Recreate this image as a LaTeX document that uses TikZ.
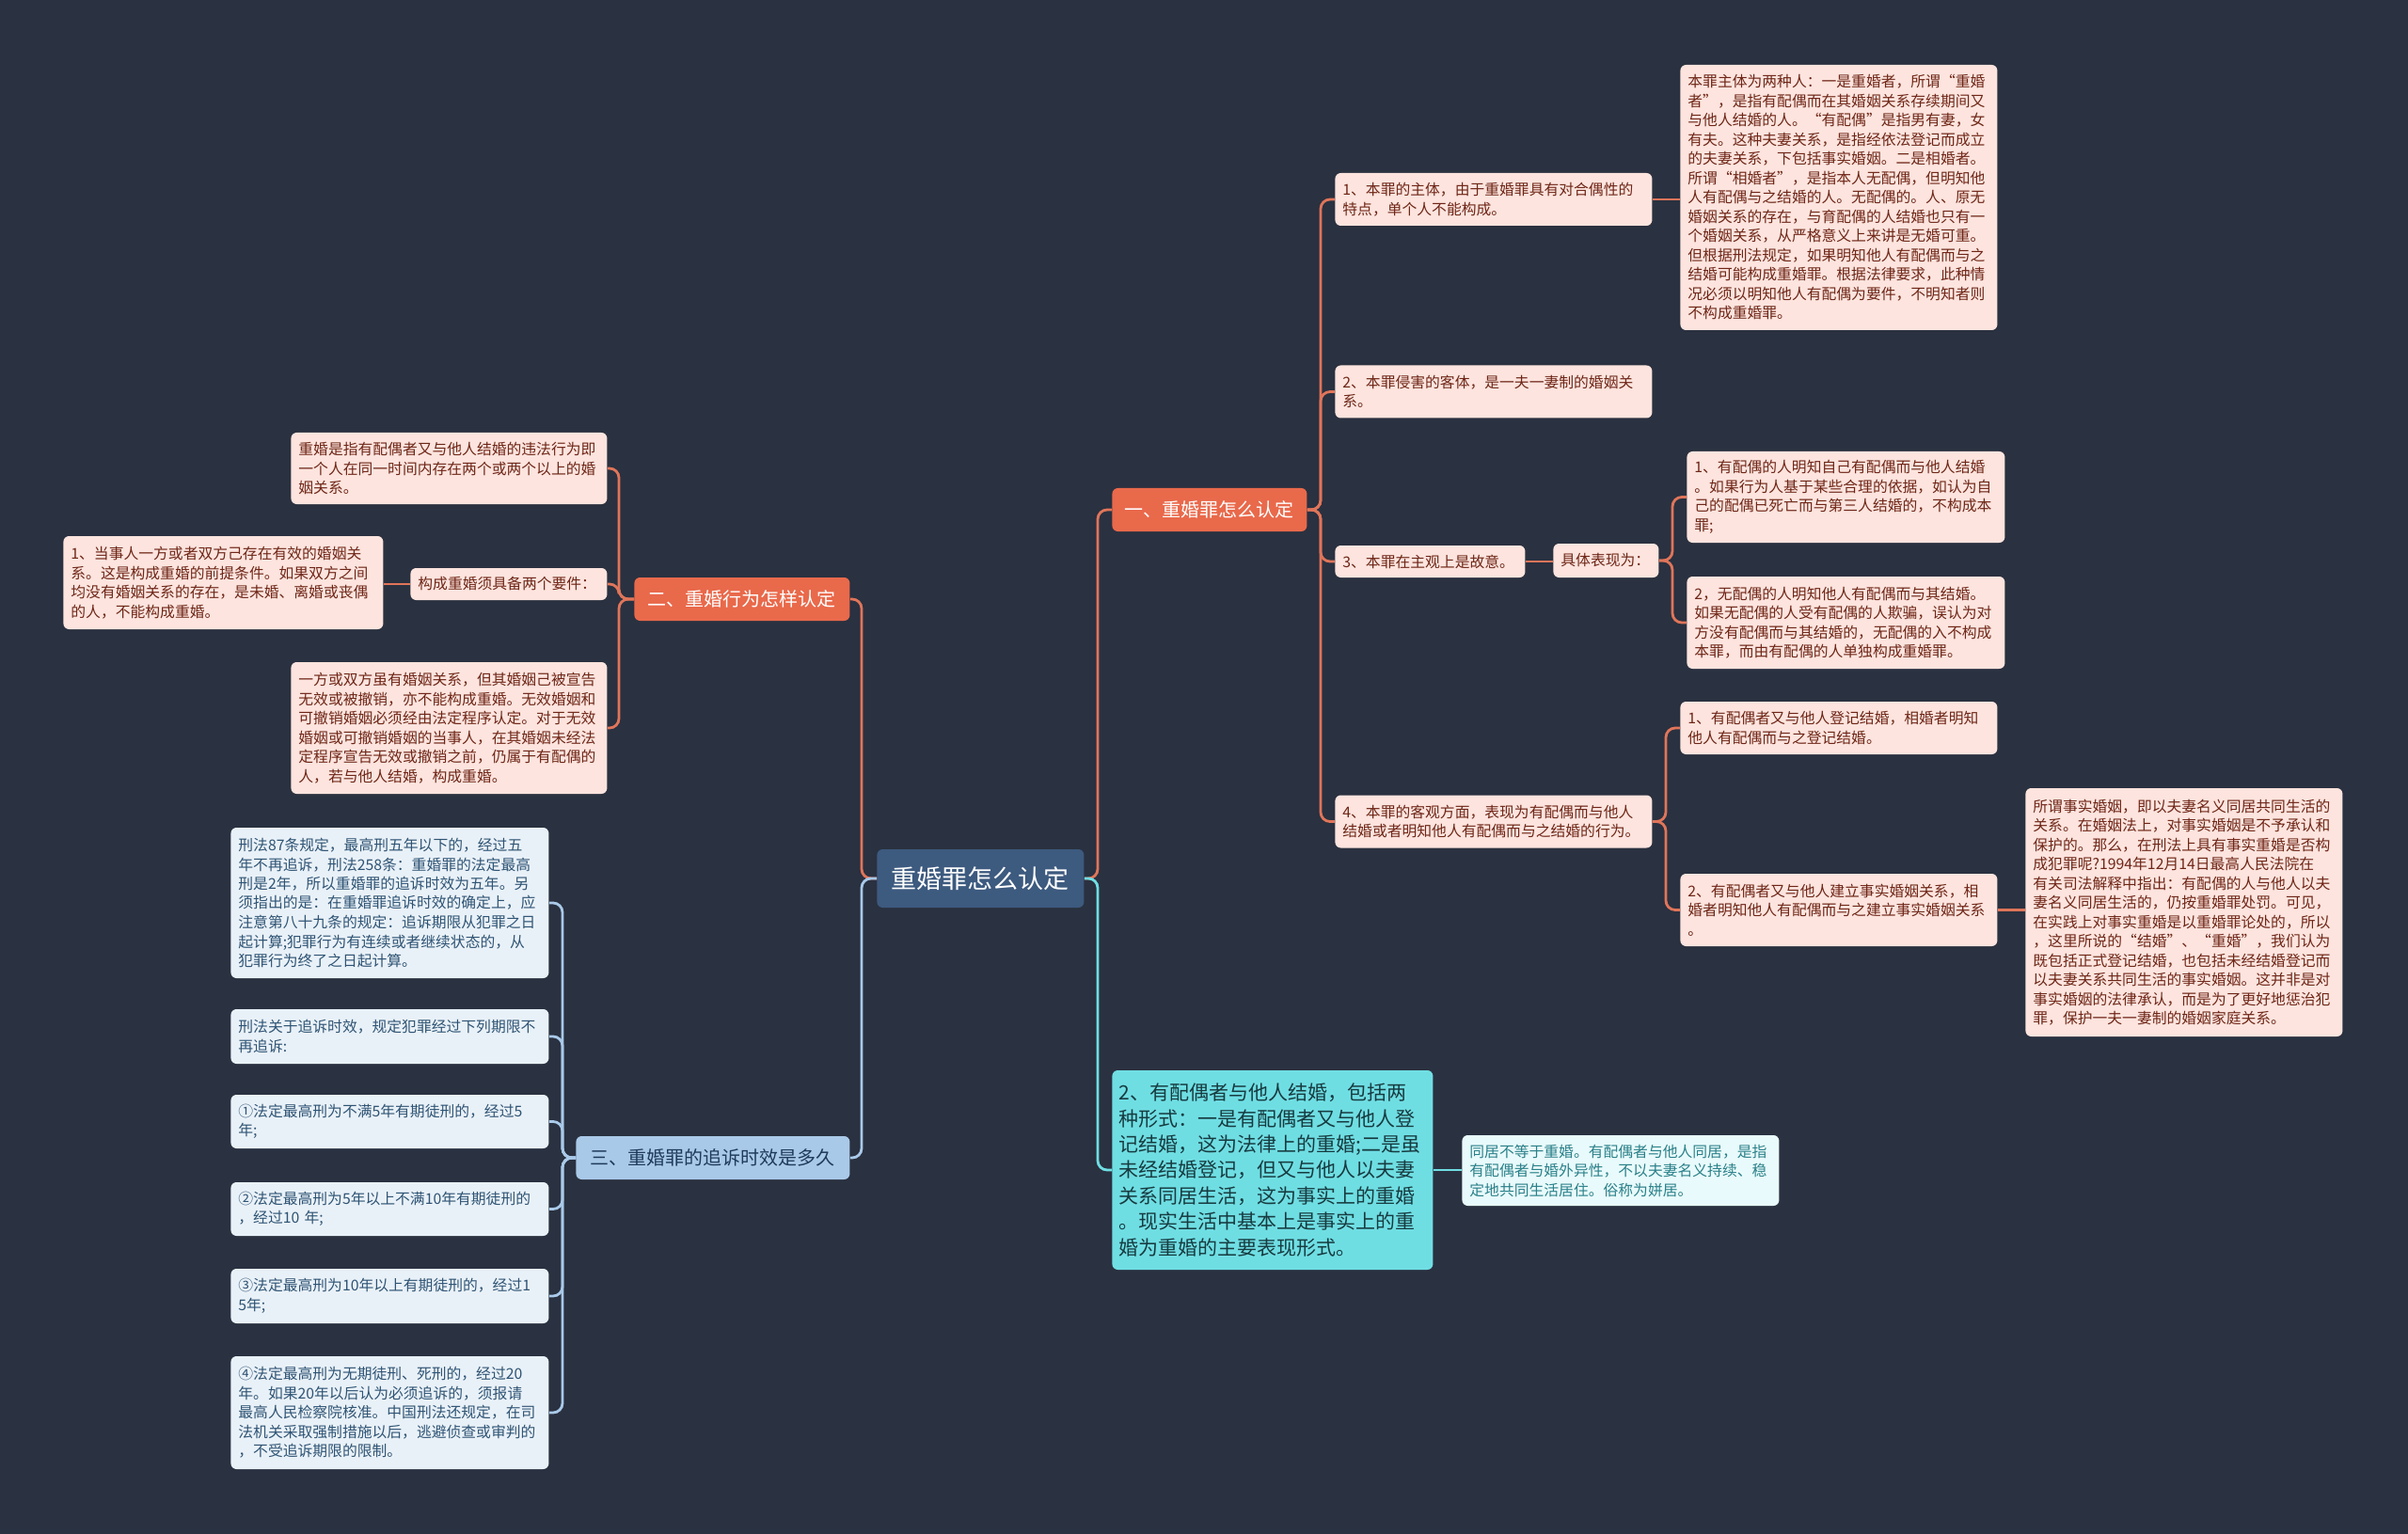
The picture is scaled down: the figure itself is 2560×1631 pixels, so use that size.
\documentclass[tikz,border=0pt]{standalone}
\usepackage{fontspec}
\setmainfont{Noto Sans CJK SC}
\definecolor{bgc}{HTML}{2A3140}
\definecolor{rootfill}{HTML}{3D5A7F}
\definecolor{orfill}{HTML}{E9694B}
\definecolor{orline}{HTML}{E0755A}
\definecolor{pkfill}{HTML}{FDE4DE}
\definecolor{pktext}{HTML}{6E2617}
\definecolor{blmain}{HTML}{A9C9E9}
\definecolor{blmaintext}{HTML}{1F3A5A}
\definecolor{blfill}{HTML}{E9F1F8}
\definecolor{bltext}{HTML}{2F5474}
\definecolor{cymain}{HTML}{6FDEE3}
\definecolor{cymaintext}{HTML}{173B40}
\definecolor{cyfill}{HTML}{E8FAFB}
\definecolor{cytext}{HTML}{2A8089}
\tikzset{
  box/.style={anchor=west, rounded corners=3pt, align=left, inner xsep=4pt, inner ysep=1pt},
  small/.style={font=\fontsize{7.9pt}{10.25pt}\selectfont},
  pk/.style={box, small, fill=pkfill, text=pktext},
  bl/.style={box, small, fill=blfill, text=bltext},
  cyl/.style={box, small, fill=cyfill, text=cytext},
  mainor/.style={box, align=center, fill=orfill, text=white, font=\fontsize{10pt}{12pt}\selectfont},
  mainbl/.style={box, align=center, fill=blmain, text=blmaintext, font=\fontsize{10pt}{12pt}\selectfont},
  maincy/.style={box, fill=cymain, text=cymaintext, inner xsep=3.75pt, font=\fontsize{10.5pt}{13.7pt}\selectfont},
  rootbox/.style={box, align=center, fill=rootfill, text=white, font=\fontsize{13.5pt}{16pt}\selectfont},
  oline/.style={draw=orline, line width=1.4pt, rounded corners=5pt},
  bline/.style={draw=blmain, line width=1.4pt, rounded corners=5pt},
  cline/.style={draw=cymain, line width=1.4pt, rounded corners=5pt}
}
\begin{document}
\begin{tikzpicture}[x=0.5pt, y=-0.5pt]
\fill[bgc] (0,0) rectangle (2560,1631);
\useasboundingbox (0,0) rectangle (2560,1631);

% root
\node[rootbox, text width=102pt, minimum height=31pt] (root) at (932,934) {重婚罪怎么认定};

% main branches
\node[mainor, text width=95.5pt, minimum height=23pt] (M1) at (1182,542) {一、重婚罪怎么认定};
\node[mainor, text width=106.5pt, minimum height=23pt] (M2) at (674,637) {二、重婚行为怎样认定};
\node[mainbl, text width=137.5pt, minimum height=23pt] (M3) at (612,1231) {三、重婚罪的追诉时效是多久};
\node[maincy, text width=163pt, minimum height=106pt] (C) at (1182,1244) {2、有配偶者与他人结婚，包括两\\种形式：一是有配偶者又与他人登\\记结婚，这为法律上的重婚;二是虽\\未经结婚登记，但又与他人以夫妻\\关系同居生活，这为事实上的重婚\\。现实生活中基本上是事实上的重\\婚为重婚的主要表现形式。};

% branch 1 children
\node[pk, text width=160.5pt, minimum height=28pt] (A1) at (1419,212) {1、本罪的主体，由于重婚罪具有对合偶性的\\特点，单个人不能构成。};
\node[pk, text width=160.5pt, minimum height=141pt] (A1d) at (1786,210) {本罪主体为两种人：一是重婚者，所谓“重婚\\者”，是指有配偶而在其婚姻关系存续期间又\\与他人结婚的人。“有配偶”是指男有妻，女\\有夫。这种夫妻关系，是指经依法登记而成立\\的夫妻关系，下包括事实婚姻。二是相婚者。\\所谓“相婚者”，是指本人无配偶，但明知他\\人有配偶与之结婚的人。无配偶的。人、原无\\婚姻关系的存在，与育配偶的人结婚也只有一\\个婚姻关系，从严格意义上来讲是无婚可重。\\但根据刑法规定，如果明知他人有配偶而与之\\结婚可能构成重婚罪。根据法律要求，此种情\\况必须以明知他人有配偶为要件，不明知者则\\不构成重婚罪。};
\node[pk, text width=160.5pt, minimum height=28pt] (A2) at (1419,416.5) {2、本罪侵害的客体，是一夫一妻制的婚姻关\\系。};
\node[pk, text width=93pt, minimum height=17pt] (A3) at (1419,597) {3、本罪在主观上是故意。};
\node[pk, text width=48pt, minimum height=18pt] (A3b) at (1651,596) {具体表现为：};
\node[pk, text width=161pt, minimum height=48.5pt] (A3b1) at (1793,528.5) {1、有配偶的人明知自己有配偶而与他人结婚\\。如果行为人基于某些合理的依据，如认为自\\己的配偶已死亡而与第三人结婚的，不构成本\\罪;};
\node[pk, text width=161pt, minimum height=49pt] (A3b2) at (1793,662) {2，无配偶的人明知他人有配偶而与其结婚。\\如果无配偶的人受有配偶的人欺骗，误认为对\\方没有配偶而与其结婚的，无配偶的入不构成\\本罪，而由有配偶的人单独构成重婚罪。};
\node[pk, text width=160.5pt, minimum height=28pt] (A4) at (1419,873.5) {4、本罪的客观方面，表现为有配偶而与他人\\结婚或者明知他人有配偶而与之结婚的行为。};
\node[pk, text width=160.5pt, minimum height=28pt] (A4a) at (1786,774) {1、有配偶者又与他人登记结婚，相婚者明知\\他人有配偶而与之登记结婚。};
\node[pk, text width=160.5pt, minimum height=38.5pt] (A4b) at (1786,967.5) {2、有配偶者又与他人建立事实婚姻关系，相\\婚者明知他人有配偶而与之建立事实婚姻关系\\。};
\node[pk, text width=160.5pt, minimum height=132pt] (A4bd) at (2153,970) {所谓事实婚姻，即以夫妻名义同居共同生活的\\关系。在婚姻法上，对事实婚姻是不予承认和\\保护的。那么，在刑法上具有事实重婚是否构\\成犯罪呢?1994年12月14日最高人民法院在\\有关司法解释中指出：有配偶的人与他人以夫\\妻名义同居生活的，仍按重婚罪处罚。可见，\\在实践上对事实重婚是以重婚罪论处的，所以\\，这里所说的“结婚”、“重婚”，我们认为\\既包括正式登记结婚，也包括未经结婚登记而\\以夫妻关系共同生活的事实婚姻。这并非是对\\事实婚姻的法律承认，而是为了更好地惩治犯\\罪，保护一夫一妻制的婚姻家庭关系。};

% cyan leaf
\node[cyl, text width=160.5pt, minimum height=37.5pt] (Cd) at (1554,1244.5) {同居不等于重婚。有配偶者与他人同居，是指\\有配偶者与婚外异性，不以夫妻名义持续、稳\\定地共同生活居住。俗称为姘居。};

% branch 2 children
\node[pk, text width=160pt, minimum height=38pt] (B1) at (309,498) {重婚是指有配偶者又与他人结婚的违法行为即\\一个人在同一时间内存在两个或两个以上的婚\\姻关系。};
\node[pk, text width=96.5pt, minimum height=17pt] (B2) at (436,621) {构成重婚须具备两个要件：};
\node[pk, text width=162pt, minimum height=49.5pt] (B2a) at (67,619.5) {1、当事人一方或者双方己存在有效的婚姻关\\系。这是构成重婚的前提条件。如果双方之间\\均没有婚姻关系的存在，是未婚、离婚或丧偶\\的人，不能构成重婚。};
\node[pk, text width=160pt, minimum height=70pt] (B3) at (309,774) {一方或双方虽有婚姻关系，但其婚姻己被宣告\\无效或被撤销，亦不能构成重婚。无效婚姻和\\可撤销婚姻必须经由法定程序认定。对于无效\\婚姻或可撤销婚姻的当事人，在其婚姻未经法\\定程序宣告无效或撤销之前，仍属于有配偶的\\人，若与他人结婚，构成重婚。};

% branch 3 children
\node[bl, text width=161pt, minimum height=80pt] (D1) at (245,960) {刑法87条规定，最高刑五年以下的，经过五\\年不再追诉，刑法258条：重婚罪的法定最高\\刑是2年，所以重婚罪的追诉时效为五年。另\\须指出的是：在重婚罪追诉时效的确定上，应\\注意第八十九条的规定：追诉期限从犯罪之日\\起计算;犯罪行为有连续或者继续状态的，从\\犯罪行为终了之日起计算。};
\node[bl, text width=161pt, minimum height=29pt] (D2) at (245,1102) {刑法关于追诉时效，规定犯罪经过下列期限不\\再追诉:};
\node[bl, text width=161pt, minimum height=28.5pt] (D3) at (245,1192.5) {①法定最高刑为不满5年有期徒刑的，经过5\\年;};
\node[bl, text width=161pt, minimum height=28.5pt] (D4) at (245,1285.5) {②法定最高刑为5年以上不满10年有期徒刑的\\，经过10 年;};
\node[bl, text width=161pt, minimum height=29pt] (D5) at (245,1378) {③法定最高刑为10年以上有期徒刑的，经过1\\5年;};
\node[bl, text width=161pt, minimum height=60pt] (D6) at (245,1502) {④法定最高刑为无期徒刑、死刑的，经过20\\年。如果20年以后认为必须追诉的，须报请\\最高人民检察院核准。中国刑法还规定，在司\\法机关采取强制措施以后，逃避侦查或审判的\\，不受追诉期限的限制。};

% connectors from root
\coordinate (jr) at (1167,934);
\coordinate (jl) at (916,934);
\draw[oline] (root.east) -- (jr) |- (M1.west);
\draw[cline] (root.east) -- (jr) |- (C.west);
\draw[oline] (root.west) -- (jl) |- (M2.east);
\draw[bline] (root.west) -- (jl) |- (M3.east);

% branch 1
\coordinate (j1) at (1404,542);
\foreach \n in {A1,A2,A3,A4} \draw[oline] (M1.east) -- (j1) |- (\n.west);
\draw[oline] (A1.east) -- (A1.east -| A1d.west);
\draw[oline] (A3.east) -- (A3.east -| A3b.west);
\coordinate (j3) at (1778,596);
\foreach \n in {A3b1,A3b2} \draw[oline] (A3b.east) -- (j3) |- (\n.west);
\coordinate (j4) at (1771,873.5);
\foreach \n in {A4a,A4b} \draw[oline] (A4.east) -- (j4) |- (\n.west);
\draw[oline] (A4b.east) -- (A4b.east -| A4bd.west);

% cyan
\draw[cline] (C.east) -- (C.east -| Cd.west);

% branch 2
\coordinate (j2) at (658,637);
\foreach \n in {B1,B2,B3} \draw[oline] (M2.west) -- (j2) |- (\n.east);
\draw[oline] (B2.west) -- (B2.west -| B2a.east);

% branch 3
\coordinate (j5) at (598,1231);
\foreach \n in {D1,D2,D3,D4,D5,D6} \draw[bline] (M3.west) -- (j5) |- (\n.east);
\end{tikzpicture}
\end{document}
